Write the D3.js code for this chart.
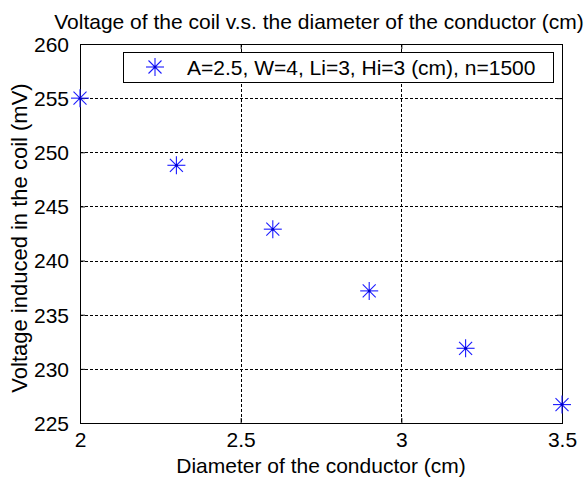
<!DOCTYPE html>
<html>
<head>
<meta charset="utf-8">
<script src="https://cdn.jsdelivr.net/npm/d3@7"></script>
<style>
  body { margin: 0; background: #fff; }
  svg { display: block; font-family: "Liberation Sans", Arial, sans-serif; }
</style>
</head>
<body>
<svg id="chart" width="587" height="477"></svg>
<script>
const diameters = [2, 2.3, 2.6, 2.9, 3.2, 3.5];
const voltages = [255, 248.8, 242.9, 237.2, 231.9, 226.7];
const xTicks = [2, 2.5, 3, 3.5];
const yTicks = [225, 230, 235, 240, 245, 250, 255, 260];
const legendLabel = 'A=2.5, W=4, Li=3, Hi=3 (cm), n=1500';

(function draw() {
  const svg = d3.select('#chart');
  const plotL = 80, plotR = 562, plotT = 44, plotB = 423;
  const fs = 21;

  const x = d3.scaleLinear().domain([2, 3.5]).range([plotL, plotR]);
  const y = d3.scaleLinear().domain([225, 260]).range([plotB, plotT]);

  // grid
  const grid = svg.append('g').attr('stroke', '#000').attr('stroke-width', 1)
    .attr('stroke-dasharray', '3 2').attr('shape-rendering', 'crispEdges');
  grid.selectAll('line.gx').data(xTicks.slice(1, -1)).join('line')
    .attr('class', 'gx')
    .attr('x1', d => Math.round(x(d)) + 0.5).attr('x2', d => Math.round(x(d)) + 0.5)
    .attr('y1', plotT).attr('y2', plotB);
  grid.selectAll('line.gy').data(yTicks.slice(1, -1)).join('line')
    .attr('class', 'gy')
    .attr('x1', plotL).attr('x2', plotR)
    .attr('y1', d => Math.round(y(d)) + 0.5).attr('y2', d => Math.round(y(d)) + 0.5);

  // axes with inward ticks
  const tickLen = 5;
  const bottomAxis = svg.append('g').attr('transform', `translate(0,${plotB})`)
    .call(d3.axisBottom(x).tickValues(xTicks).tickSize(-tickLen).tickPadding(9).tickFormat(d3.format('')));
  const topAxis = svg.append('g').attr('transform', `translate(0,${plotT})`)
    .call(d3.axisTop(x).tickValues(xTicks).tickSize(-tickLen).tickFormat(''));
  const leftAxis = svg.append('g').attr('transform', `translate(${plotL},0)`)
    .call(d3.axisLeft(y).tickValues(yTicks).tickSize(-tickLen).tickPadding(11));
  const rightAxis = svg.append('g').attr('transform', `translate(${plotR},0)`)
    .call(d3.axisRight(y).tickValues(yTicks).tickSize(-tickLen).tickFormat(''));

  [bottomAxis, topAxis, leftAxis, rightAxis].forEach(a => {
    a.select('.domain').remove();
    a.selectAll('line').attr('stroke', '#000');
    a.selectAll('text').attr('fill', '#000').attr('font-size', fs)
      .attr('font-family', '"Liberation Sans", Arial, sans-serif');
  });
  leftAxis.selectAll('text').attr('dy', '0.35em');
  bottomAxis.selectAll('text').attr('dy', '0.71em');

  // frame
  svg.append('rect').attr('x', plotL + 0.5).attr('y', plotT + 0.5)
    .attr('width', plotR - plotL).attr('height', plotB - plotT)
    .attr('fill', 'none').attr('stroke', '#000').attr('shape-rendering', 'crispEdges');

  // star marker (MATLAB '*')
  function star(g, cx, cy) {
    const r = 9, d = 6.5;
    const s = g.append('g').attr('stroke', '#1a1aff').attr('stroke-width', 1.1);
    s.append('line').attr('x1', cx - r).attr('x2', cx + r).attr('y1', cy).attr('y2', cy);
    s.append('line').attr('x1', cx).attr('x2', cx).attr('y1', cy - r).attr('y2', cy + r);
    s.append('line').attr('x1', cx - d).attr('x2', cx + d).attr('y1', cy - d).attr('y2', cy + d);
    s.append('line').attr('x1', cx - d).attr('x2', cx + d).attr('y1', cy + d).attr('y2', cy - d);
    g.append('circle').attr('cx', cx).attr('cy', cy).attr('r', 1.5).attr('fill', '#0000cc');
  }

  const points = svg.append('g');
  diameters.forEach((dv, i) => star(points, x(dv), y(voltages[i])));

  // legend
  const legend = svg.append('g');
  legend.append('rect').attr('x', 123.5).attr('y', 52.5).attr('width', 430).attr('height', 30)
    .attr('fill', '#fff').attr('stroke', '#000').attr('shape-rendering', 'crispEdges');
  star(legend, 155, 67);
  legend.append('text').attr('x', 187).attr('y', 75).attr('font-size', fs).attr('fill', '#000')
    .text(legendLabel);

  // titles
  svg.append('text').attr('x', 319).attr('y', 29).attr('text-anchor', 'middle')
    .attr('font-size', fs).attr('fill', '#000')
    .text('Voltage of the coil v.s. the diameter of the conductor (cm)');
  svg.append('text').attr('x', 321).attr('y', 473).attr('text-anchor', 'middle')
    .attr('font-size', fs).attr('fill', '#000')
    .text('Diameter of the conductor (cm)');
  svg.append('text').attr('transform', 'translate(27,238) rotate(-90)').attr('text-anchor', 'middle')
    .attr('font-size', fs + 1).attr('fill', '#000')
    .text('Voltage induced in the coil (mV)');
})();
</script>
</body>
</html>
